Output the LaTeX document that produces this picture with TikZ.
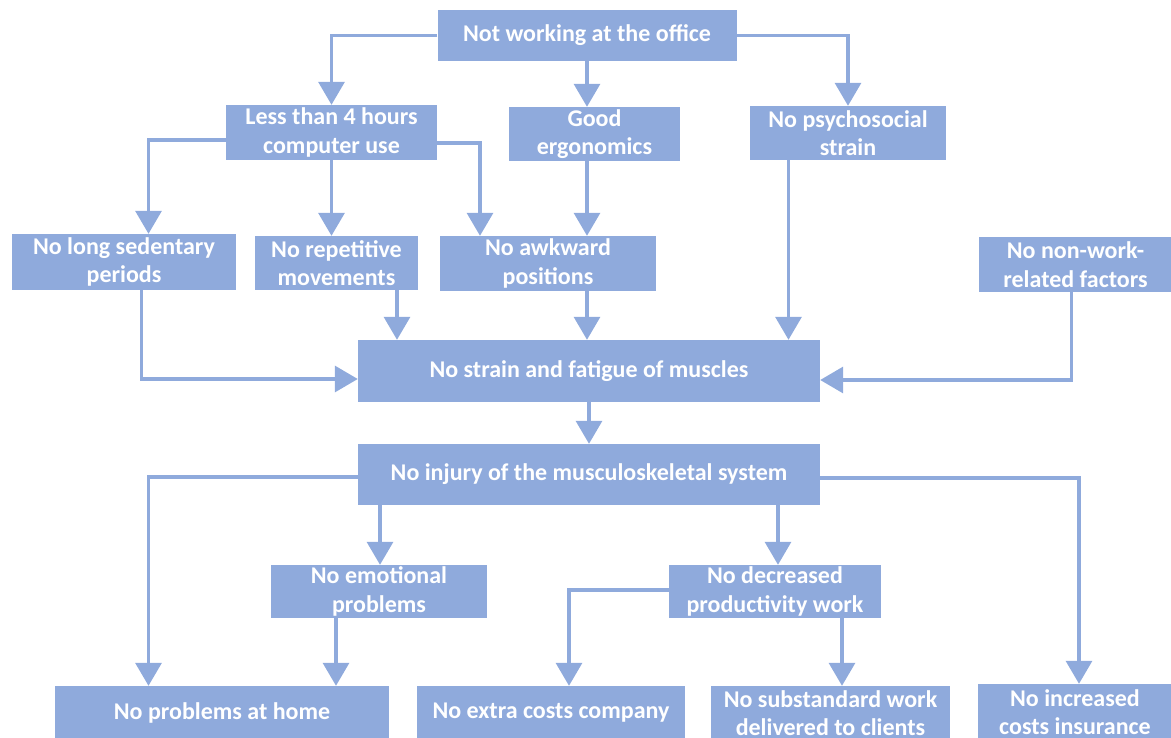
\documentclass[tikz,border=0pt]{standalone}
\usepackage{fontspec}
\setmainfont{Carlito}
\usetikzlibrary{arrows.meta}

\definecolor{boxblue}{RGB}{143,170,220}

\tikzset{
  box/.style={fill=boxblue, text=white, align=center, inner sep=0pt,
    font=\bfseries\fontsize{24}{28.5}\selectfont},
  link/.style={draw=boxblue, line width=3.3pt,
    -{Triangle[width=26pt,length=23pt]}}
}

\begin{document}
\begin{tikzpicture}[x=1pt, y=-1pt]

\useasboundingbox (0,0) rectangle (1171,738);

% Cajas
\node[box, minimum width=299, minimum height=51] (office) at (587,35.5) {Not working at the office};

\node[box, minimum width=211, minimum height=55] (hours) at (331.5,132.5) {Less than 4 hours\\computer use};
\node[box, minimum width=171, minimum height=54] (ergo) at (594.5,134) {Good\\ergonomics};
\node[box, minimum width=196, minimum height=54] (psycho) at (848,133) {No psychosocial\\strain};

\node[box, minimum width=224, minimum height=56] (sedentary) at (124,262) {No long sedentary\\periods};
\node[box, minimum width=163, minimum height=54] (repetitive) at (336.5,263) {No repetitive\\movements};
\node[box, minimum width=216, minimum height=55] (awkward) at (548,263.5) {No awkward\\positions};
\node[box, minimum width=193, minimum height=55] (nonwork) at (1075.5,264.5) {No non-work-\\related factors};

\node[box, minimum width=462, minimum height=62] (fatigue) at (589,371) {No strain and fatigue of muscles};
\node[box, minimum width=462, minimum height=61] (injury) at (589,474.5) {No injury of the musculoskeletal system};

\node[box, minimum width=216, minimum height=53] (emotional) at (379,591.5) {No emotional\\problems};
\node[box, minimum width=212, minimum height=53] (productivity) at (775,591.5) {No decreased\\productivity work};

\node[box, minimum width=334, minimum height=54] (home) at (222,713) {No problems at home};
\node[box, minimum width=268, minimum height=54] (extra) at (551,713) {No extra costs company};
\node[box, minimum width=239, minimum height=54] (substandard) at (830.5,713) {No substandard work\\delivered to clients};
\node[box, minimum width=194, minimum height=56] (insurance) at (1075,712) {No increased\\costs insurance};

% Flechas arriba
\draw[link] (office.west) -| (hours.north);
\draw[link] (office.south) -- (office.south |- ergo.north);
\draw[link] (office.east) -| (psycho.north);

\draw[link] ([yshift=-7.5pt]hours.west) -| ([xshift=24.5pt]sedentary.north);
\draw[link] (hours.south) -- (hours.south |- repetitive.north);
\draw[link] ([yshift=-10.5pt]hours.east) -| ([xshift=-68pt]awkward.north);
\draw[link] ([xshift=-7.5pt]ergo.south) -- ([xshift=-7.5pt]ergo.south |- awkward.north);

% Flechas al centro
\draw[link] ([xshift=17.6pt]sedentary.south) |- ([yshift=-8pt]fatigue.west);
\draw[link] ([xshift=60.5pt]repetitive.south) -- ([xshift=60.5pt]repetitive.south |- fatigue.north);
\draw[link] ([xshift=39pt]awkward.south) -- ([xshift=39pt]awkward.south |- fatigue.north);
\draw[link] ([xshift=-59.5pt]psycho.south) -- ([xshift=-59.5pt]psycho.south |- fatigue.north);
\draw[link] ([xshift=-4pt]nonwork.south) |- ([yshift=-9pt]fatigue.east);
\draw[link] (fatigue.south) -- (injury.north);

% Flechas abajo
\draw[link] ([yshift=-2.5pt]injury.west) -| ([xshift=-73.5pt]home.north);
\draw[link] ([xshift=-209pt]injury.south) -- ([xshift=-209pt]injury.south |- emotional.north);
\draw[link] ([xshift=189pt]injury.south) -- ([xshift=189pt]injury.south |- productivity.north);
\draw[link] ([yshift=-3.5pt]injury.east) -| ([xshift=4pt]insurance.north);

\draw[link] ([xshift=-43pt]emotional.south) -- ([xshift=-43pt]emotional.south |- home.north);
\draw[link] ([yshift=1.5pt]productivity.west) -| ([xshift=18pt]extra.north);
\draw[link] ([xshift=67pt]productivity.south) -- ([xshift=67pt]productivity.south |- substandard.north);

\end{tikzpicture}
\end{document}
